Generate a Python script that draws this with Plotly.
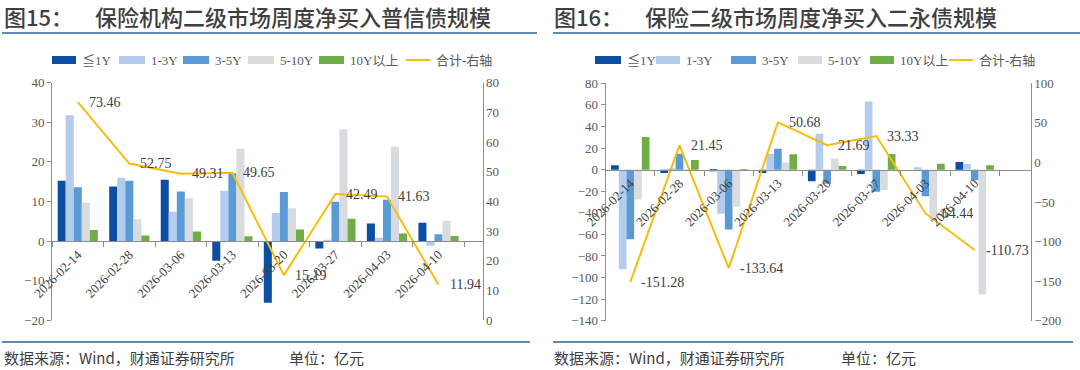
import plotly.graph_objects as go

W, H = 1080, 370

dates = ['2026-02-14', '2026-02-28', '2026-03-06', '2026-03-13',
         '2026-03-20', '2026-03-27', '2026-04-03', '2026-04-10']
series_names = ['≦1Y', '1-3Y', '3-5Y', '5-10Y', '10Y以上']
line_name = '合计-右轴'

# 图15 普信债 (亿元)
pxy_le1 = [15.2, 13.8, 15.5, -5.0, -15.6, -1.9, 4.4, 4.6]
pxy_1_3 = [31.8, 16.0, 7.4, 12.7, 7.1, 0.3, 0.8, -1.2]
pxy_3_5 = [13.6, 15.2, 12.5, 17.1, 12.4, 9.9, 10.4, 1.7]
pxy_5_10 = [9.7, 5.5, 10.8, 23.3, 8.3, 28.2, 23.8, 5.1]
pxy_10p = [2.8, 1.4, 2.4, 1.2, 2.9, 5.6, 1.9, 1.3]
pxy_total = [73.46, 52.75, 49.31, 49.65, 15.19, 42.49, 41.63, 11.94]

# 图16 二永债 (亿元)
ey_le1 = [4.0, -3.1, -0.9, -3.1, -10.8, -4.0, 0.0, 7.1]
ey_1_3 = [-92.3, 0.5, -40.9, 14.8, 33.2, 63.1, 2.2, 5.2]
ey_3_5 = [-64.6, 14.8, -55.4, 19.4, -13.2, -20.6, -24.6, -9.8]
ey_5_10 = [-27.7, 0.3, -34.5, 6.5, 10.2, -18.8, -47.7, -115.4]
ey_10p = [30.2, 8.9, -0.5, 14.2, 3.4, 14.5, 5.5, 4.0]
ey_total = [-151.28, 21.45, -133.64, 50.68, 21.69, 33.33, -64.44, -110.73]

colors = ['#0b4ea2', '#b4cdee', '#5b9bd5', '#d9dcdf', '#70ad47']
line_color = '#f8bd0b'
serif = 'Liberation Serif, Times New Roman, Noto Sans CJK SC'
sans = 'Noto Sans CJK SC, Noto Sans, sans-serif'
axis_gray = '#8c8c8c'
text_col = '#404040'


def px(x):
    return x / W


def py(y):
    return 1 - y / H


fig = go.Figure()

panels = [
    dict(bars=[pxy_le1, pxy_1_3, pxy_3_5, pxy_5_10, pxy_10p], total=pxy_total,
         xa='x', ya='y', ya2='y2'),
    dict(bars=[ey_le1, ey_1_3, ey_3_5, ey_5_10, ey_10p], total=ey_total,
         xa='x2', ya='y3', ya2='y4'),
]

for p in panels:
    for name, vals, c in zip(series_names, p['bars'], colors):
        fig.add_trace(go.Bar(x=dates, y=vals, name=name, marker=dict(color=c, line=dict(width=0)),
                             xaxis=p['xa'], yaxis=p['ya'], showlegend=False))
    fig.add_trace(go.Scatter(x=dates, y=p['total'], name=line_name, mode='lines',
                             line=dict(color=line_color, width=2),
                             xaxis=p['xa'], yaxis=p['ya2'], showlegend=False))
    for d, v in zip(dates, p['total']):
        fig.add_annotation(x=d, y=v, xref=p['xa'], yref=p['ya2'], text=f'{v:.2f}',
                           showarrow=False, xanchor='left', yanchor='middle', xshift=9,
                           font=dict(family=serif, size=14, color=text_col))

# geometry (pixels)
L1 = dict(x0=52, x1=482.5, top=82.7, bot=320.2, ymin=-20, ymax=40)
L2 = dict(x0=605.7, x1=1030.7, top=83.3, bot=320.7, ymin=-140, ymax=80)


def zero_pos(g):
    d0, d1 = py(g['bot']), py(g['top'])
    return d0 + (d1 - d0) * (0 - g['ymin']) / (g['ymax'] - g['ymin'])


common_x = dict(type='category', showline=True, linecolor=axis_gray, linewidth=1,
                ticks='outside', ticklen=5, tickcolor=axis_gray, tickson='boundaries',
                tickangle=-45, tickfont=dict(family=serif, size=13, color=text_col),
                showgrid=False, zeroline=False, anchor='free', automargin=False)
common_yl = dict(showline=True, linecolor=axis_gray, linewidth=1, ticks='outside', ticklen=4,
                 tickcolor=axis_gray, showgrid=False, zeroline=False, automargin=False,
                 tickfont=dict(family=serif, size=13, color='#595959'))
common_yr = dict(showline=True, linecolor=axis_gray, linewidth=1, ticks='', showgrid=False,
                 zeroline=False, side='right', automargin=False,
                 tickfont=dict(family=serif, size=13, color='#595959'))

fig.update_layout(
    width=W, height=H, margin=dict(l=0, r=0, t=0, b=0, autoexpand=False),
    paper_bgcolor='white', plot_bgcolor='rgba(0,0,0,0)',
    barmode='group', bargap=0.22, bargroupgap=0,
    showlegend=False,
    xaxis=dict(domain=[px(L1['x0']), px(L1['x1'])], position=zero_pos(L1), **common_x),
    yaxis=dict(domain=[py(L1['bot']), py(L1['top'])], range=[-20, 40], dtick=10, anchor='x', **common_yl),
    yaxis2=dict(domain=[py(L1['bot']), py(L1['top'])], range=[0, 80], dtick=10, anchor='x',
                overlaying='y', **common_yr),
    xaxis2=dict(domain=[px(L2['x0']), px(L2['x1'])], position=zero_pos(L2), **common_x),
    yaxis3=dict(domain=[py(L2['bot']), py(L2['top'])], range=[-140, 80], dtick=20, anchor='x2', **common_yl),
    yaxis4=dict(domain=[py(L2['bot']), py(L2['top'])], range=[-200, 100], dtick=50, anchor='x2',
                overlaying='y3', **common_yr),
)

# custom legends (symbol box x-start, x-end in px)
leg_font = dict(family=serif, size=13, color='#595959')
legend_layouts = [
    [(52, 76), (119, 145), (183, 209), (248, 274), (319, 344), (406, 430)],
    [(595, 621), (656, 680), (731, 756), (798, 822), (870, 894), (949, 973)],
]
leg_y = 60
for boxes in legend_layouts:
    for i, (a, b) in enumerate(boxes):
        if i < 5:
            fig.add_shape(type='rect', xref='paper', yref='paper', x0=px(a), x1=px(b),
                          y0=py(leg_y + 4), y1=py(leg_y - 4), line=dict(width=0), fillcolor=colors[i])
            label = series_names[i]
        else:
            fig.add_shape(type='line', xref='paper', yref='paper', x0=px(a), x1=px(b),
                          y0=py(leg_y), y1=py(leg_y), line=dict(color=line_color, width=2))
            label = line_name
        fig.add_annotation(x=px(b + 4), y=py(leg_y), xref='paper', yref='paper', text=label,
                           showarrow=False, xanchor='left', yanchor='middle', font=leg_font)

# titles
title_font = dict(family=sans, size=22, color='#3f3f3f', weight=500)
for x0, num, title in [(2, '图15：', '保险机构二级市场周度净买入普信债规模'),
                       (552, '图16：', '保险二级市场周度净买入二永债规模')]:
    fig.add_annotation(x=px(x0), y=py(16), xref='paper', yref='paper', text=num, showarrow=False,
                       xanchor='left', yanchor='middle', font=title_font)
    fig.add_annotation(x=px(x0 + 91), y=py(16), xref='paper', yref='paper', text=title, showarrow=False,
                       xanchor='left', yanchor='middle', font=title_font)

# footers
foot_font = dict(family=sans, size=15, color=text_col)
for x0, x_unit in [(2, 287), (552, 839)]:
    fig.add_annotation(x=px(x0), y=py(357), xref='paper', yref='paper', text='数据来源：Wind，财通证券研究所',
                       showarrow=False, xanchor='left', yanchor='middle', font=foot_font)
    fig.add_annotation(x=px(x_unit), y=py(357), xref='paper', yref='paper', text='单位：亿元',
                       showarrow=False, xanchor='left', yanchor='middle', font=foot_font)

# separator lines
line_blue = '#2c6399'
for x0, x1 in [(2, 537), (553, 1080)]:
    fig.add_shape(type='line', xref='paper', yref='paper', x0=px(x0), x1=px(x1), y0=py(33), y1=py(33),
                  line=dict(color=line_blue, width=1.5))
    fig.add_shape(type='line', xref='paper', yref='paper', x0=px(x0), x1=px(x1 - 7), y0=py(342), y1=py(342),
                  line=dict(color=line_blue, width=1.5))

fig.write_html('out.html', config={'displayModeBar': False},
               post_script="document.body.style.margin='0';document.body.style.overflow='hidden';")
